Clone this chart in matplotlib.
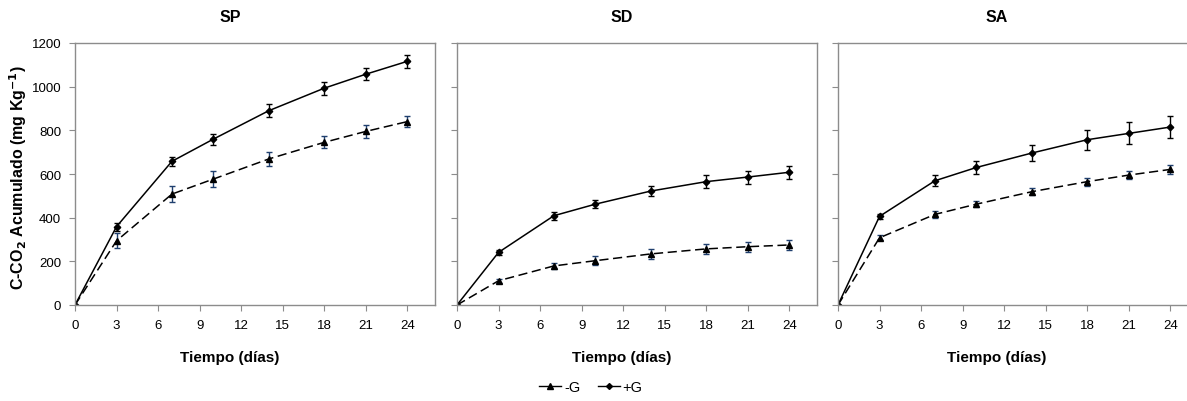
import numpy as np
import matplotlib
matplotlib.use('Agg')
import matplotlib.pyplot as plt
from matplotlib.lines import Line2D

plt.rcParams['font.family'] = ['Liberation Sans', 'DejaVu Sans']

# days of measurement
dias = [0, 3, 7, 10, 14, 18, 21, 24]
xticks = [0, 3, 6, 9, 12, 15, 18, 21, 24]
yticks = [0, 200, 400, 600, 800, 1000, 1200]
paneles = ['SP', 'SD', 'SA']

# accumulated C-CO2 (mg Kg-1), -G and +G, with error bars
sp_menos = [0, 294, 508, 577, 669, 745, 795, 840]
sp_menos_err = [0, 35, 35, 35, 32, 28, 30, 25]
sp_mas = [0, 359, 658, 760, 890, 993, 1057, 1116]
sp_mas_err = [0, 18, 22, 25, 30, 30, 28, 30]

sd_menos = [0, 111, 179, 203, 234, 257, 267, 275]
sd_menos_err = [0, 10, 15, 20, 22, 22, 22, 22]
sd_mas = [0, 241, 409, 462, 522, 565, 586, 608]
sd_mas_err = [0, 12, 18, 20, 25, 30, 30, 30]

sa_menos = [0, 308, 415, 462, 519, 565, 595, 621]
sa_menos_err = [0, 12, 15, 15, 15, 18, 20, 22]
sa_mas = [0, 406, 569, 630, 696, 757, 786, 815]
sa_mas_err = [0, 10, 25, 30, 35, 45, 50, 50]

datos = [(sp_menos, sp_menos_err, sp_mas, sp_mas_err),
         (sd_menos, sd_menos_err, sd_mas, sd_mas_err),
         (sa_menos, sa_menos_err, sa_mas, sa_mas_err)]

W, H = 1187, 402
fig = plt.figure(figsize=(W/100, H/100), dpi=100)

lefts = [75, 457, 838]
title_x = [0.43, 0.458, 0.44]
gris = '#8c8c8c'
azul = '#1f3f6e'

for i in range(3):
    ax = fig.add_axes([lefts[i]/W, (H-306)/H, 360/W, 262/H])
    menos, menos_err, mas, mas_err = datos[i]
    ax.errorbar(dias, menos, yerr=menos_err, fmt='none', ecolor=azul,
                elinewidth=1, capsize=2, capthick=1)
    ax.errorbar(dias, mas, yerr=mas_err, fmt='none', ecolor='black',
                elinewidth=1, capsize=2, capthick=1)
    ax.plot(dias, menos, color='black', ls=(0, (6, 3)), lw=1.1,
            marker='^', ms=4.5)
    ax.plot(dias, mas, color='black', ls='-', lw=1.1, marker='D', ms=3.3)
    ax.set_xlim(0, 26)
    ax.set_ylim(0, 1200)
    ax.set_xticks(xticks)
    ax.set_yticks(yticks)
    ax.tick_params(direction='out', length=4, color=gris, labelsize=9.5, pad=6)
    if i > 0:
        ax.set_yticklabels([])
    for s in ax.spines.values():
        s.set_color(gris)
        s.set_linewidth(1)
    ax.set_title(paneles[i], x=title_x[i], pad=16, fontsize=11.5, fontweight='bold')
    ax.set_xlabel('Tiempo (días)', fontsize=11, fontweight='bold', labelpad=14,
                  x=title_x[i])
    if i == 0:
        ax.set_ylabel('C-CO$_\\mathbf{2}$ Acumulado (mg Kg$^\\mathbf{-1}$)',
                      fontsize=11.5, fontweight='bold')
        ax.yaxis.set_label_coords(-0.128, 0.49)

handles = [Line2D([], [], color='black', lw=1, marker='^', ms=4),
           Line2D([], [], color='black', lw=1, marker='D', ms=3)]
fig.legend(handles, ['-G', '+G'], loc='center', bbox_to_anchor=(591/W, 1-388/H),
           ncol=2, frameon=False, fontsize=10.5, handlelength=1.5,
           handletextpad=0.2, columnspacing=1.2)

fig.savefig('out.png', dpi=100)
